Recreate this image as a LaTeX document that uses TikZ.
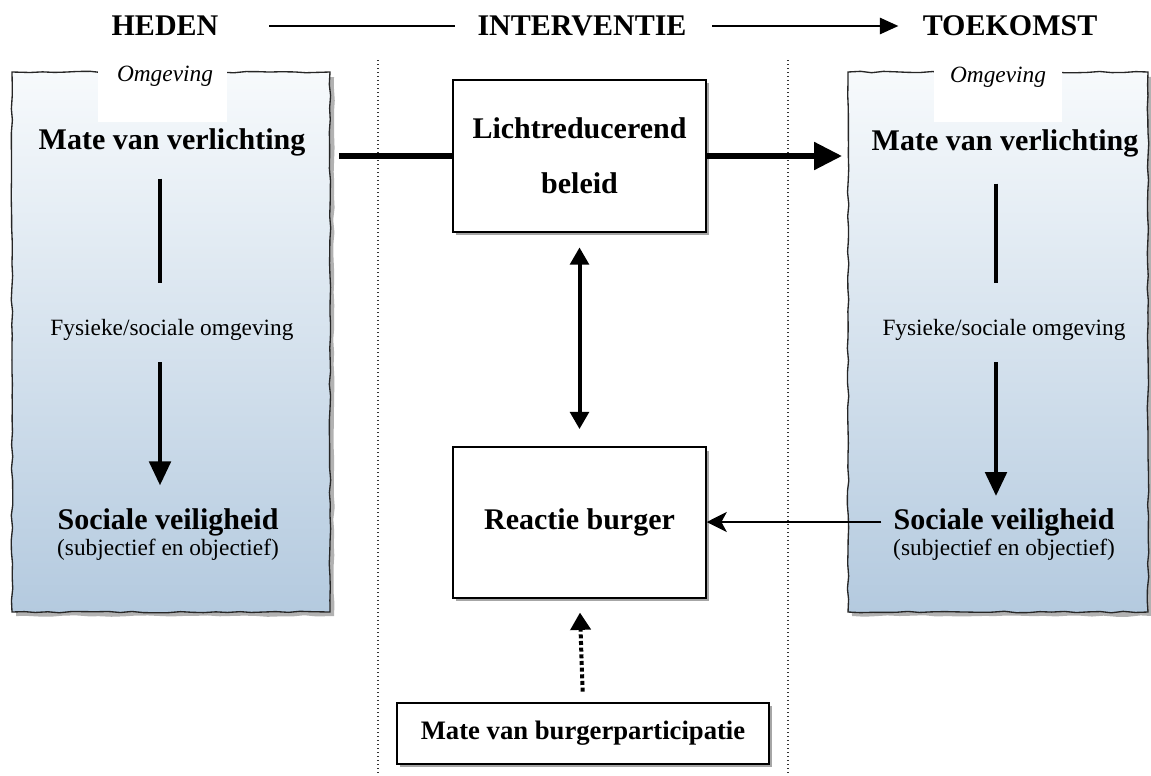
\documentclass[tikz,border=0pt]{standalone}
\usepackage{fontspec}
\setmainfont{Liberation Serif}
\usetikzlibrary{arrows.meta,decorations.pathmorphing}
\definecolor{envtop}{HTML}{F7FAFC}
\definecolor{envbot}{HTML}{B4CADF}
\tikzset{
  big/.style={inner sep=0pt,font=\fontsize{22.5}{26}\selectfont\bfseries},
  mid/.style={inner sep=0pt,font=\fontsize{20}{24}\selectfont\bfseries},
  reg/.style={inner sep=0pt,font=\fontsize{17.5}{20}\selectfont},
  omg/.style={inner sep=0pt,font=\fontsize{17.5}{20}\selectfont\itshape},
  envbox/.style={draw=black!85,line width=1pt,top color=envtop,bottom color=envbot,
    decorate,decoration={random steps,segment length=9pt,amplitude=0.6pt}},
  envshadow/.style={fill=black!30,decorate,decoration={random steps,segment length=9pt,amplitude=0.6pt}},
  patch/.style={fill=white,draw=none},
  midbox/.style={draw=black,line width=1.1pt,fill=white,align=center,
    drop shadow={shadow xshift=2.5pt,shadow yshift=-2.5pt,fill=black!35,opacity=1}},
  titleline/.style={line width=2.2pt},
  heavy/.style={line width=4.5pt},
  vline/.style={line width=3.2pt},
  sep/.style={dotted,line width=1pt,black!80},
}
\usetikzlibrary{shadows}
\begin{document}
\begin{tikzpicture}[x=0.75pt,y=-0.75pt]
\useasboundingbox (0,0) rectangle (1151,775);
% separators
\draw[sep] (378,60) -- (378,775);
\draw[sep] (788,60) -- (788,775);
% titles
\node[big] (heden) at (165,26) {HEDEN};
\node[big] (intv) at (582,26) {INTERVENTIE};
\node[big] (toek) at (1010,26) {TOEKOMST};
\draw[titleline,shorten <=38pt,shorten >=17pt] (heden.east) -- (intv.west);
\draw[titleline,-{Triangle[length=14pt,width=12pt]},shorten <=19pt,shorten >=18pt] (intv.east) -- (toek.west);
% environment boxes
\fill[envshadow] (16,77) rectangle (334,616);
\path[envbox] (12,72) rectangle (330,612);
\fill[patch] (98,62) rectangle (227,122);
\fill[envshadow] (852,77) rectangle (1152,616);
\path[envbox] (848,72) rectangle (1148,612);
\fill[patch] (934,62) rectangle (1062,122);
% left texts
\node[omg] (lomg) at (165,76) {Omgeving};
\node[big] (lmate) at (172,142) {Mate van verlichting};
\node[reg] (lfys) at (172,330) {Fysieke/sociale omgeving};
\node[big] (lsoc) at (168,522) {Sociale veiligheid};
\node[reg] (lsub) at (168,550) {(subjectief en objectief)};
% right texts
\node[omg] (romg) at (998,77) {Omgeving};
\node[big] (rmate) at (1005,143) {Mate van verlichting};
\node[reg] (rfys) at (1004,330) {Fysieke/sociale omgeving};
\node[big] (rsoc) at (1004,522) {Sociale veiligheid};
\node[reg] (rsub) at (1004,550) {(subjectief en objectief)};
% env arrows
\draw[vline,shorten <=17pt,shorten >=27pt] (lmate.south -| 160,0) -- (lfys.north -| 160,0);
\draw[vline,-{Triangle[length=18pt,width=16pt]},shorten <=16pt,shorten >=17pt] (lfys.south -| 160,0) -- (lsoc.north -| 160,0);
\draw[vline,shorten <=20pt,shorten >=27pt] (rmate.south -| 996,0) -- (rfys.north -| 996,0);
\draw[vline,-{Triangle[length=18pt,width=16pt]},shorten <=16pt,shorten >=9pt] (rfys.south -| 996,0) -- (rsoc.north -| 996,0);
% central boxes
\node[midbox,minimum width=189.75pt,minimum height=114pt,font=\fontsize{22.5}{41}\selectfont\bfseries] (licht) at (579.5,156) {Lichtreducerend\\beleid};
\node[midbox,minimum width=189.75pt,minimum height=113pt,font=\fontsize{22.5}{26}\selectfont\bfseries] (react) at (579.5,522.5) {Reactie burger};
\node[midbox,minimum width=279pt,minimum height=45.75pt,font=\fontsize{20}{24}\selectfont\bfseries] (burger) at (583,733.5) {Mate van burgerparticipatie};
% connectors
\draw[heavy,shorten <=25pt] (lmate.east |- licht.west) -- (licht.west);
\draw[heavy,-{Triangle[length=21pt,width=20pt]},shorten >=22pt] (licht.east) -- (rmate.west |- licht.east);
\draw[line width=3pt,{Triangle[length=13pt,width=14pt]}-{Triangle[length=13pt,width=14pt]},shorten <=11pt,shorten >=13pt] (licht.south) -- (react.north);
\draw[line width=2.2pt,-{Stealth[length=15pt,width=15pt,inset=4pt]},shorten <=9pt] (rsoc.west) -- (react.east |- rsoc.west);
\draw[line width=3pt,dotted,-{Triangle[length=13pt,width=15pt]},shorten <=8pt,shorten >=10.5pt] (burger.north) -- (react.south);
\end{tikzpicture}
\end{document}
